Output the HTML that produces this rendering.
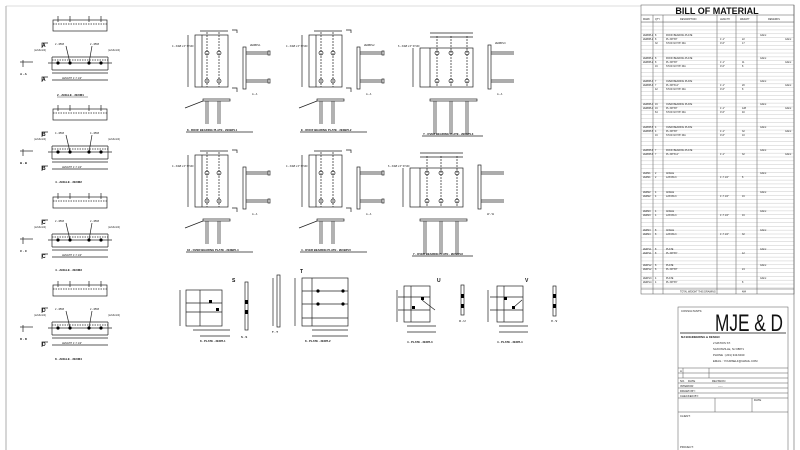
<!DOCTYPE html>
<html><head><meta charset="utf-8"><style>
html,body{margin:0;padding:0;background:#fff;width:800px;height:450px;overflow:hidden}
svg{display:block;font-family:"Liberation Sans",sans-serif}
</style></head><body>
<svg width="800" height="450" viewBox="0 0 800 450" xmlns="http://www.w3.org/2000/svg">
<defs>
<g id="ang" fill="none" stroke="#222" stroke-width="0.7">
  <rect x="53" y="20" width="54" height="11"/>
  <line x1="53" y1="24" x2="107" y2="24" stroke-dasharray="1.5 1"/>
  <line x1="58" y1="16" x2="58" y2="22"/><line x1="70" y1="16" x2="70" y2="22"/>
  <line x1="89" y1="16" x2="89" y2="22"/><line x1="101" y1="16" x2="101" y2="22"/>
  <line x1="52" y1="57" x2="108" y2="57"/><line x1="52" y1="70" x2="108" y2="70"/>
  <line x1="52" y1="60" x2="108" y2="60" stroke-dasharray="1.5 1"/>
  <line x1="52" y1="57" x2="52" y2="70"/><line x1="108" y1="57" x2="108" y2="70"/>
  <line x1="52" y1="73" x2="108" y2="73"/><line x1="52" y1="80" x2="108" y2="80"/>
  <line x1="48" y1="63" x2="112" y2="63"/>
  <line x1="70" y1="63" x2="66" y2="46"/><line x1="89" y1="63" x2="92" y2="46"/>
  <polyline points="42,48 42,43 48,43"/><polyline points="42,82 42,77 48,77"/>
  <polyline points="20,62 33,62"/><line x1="23" y1="60" x2="23" y2="67"/>
</g>
<g id="angdots" fill="#000">
  <circle cx="58" cy="63" r="1.6"/><circle cx="70" cy="63" r="1.6"/><circle cx="89" cy="63" r="1.6"/><circle cx="101" cy="63" r="1.6"/>
</g>
<g id="pl2" fill="none" stroke="#222" stroke-width="0.7">
  <rect x="195" y="35" width="33" height="52"/>
  <line x1="202" y1="35" x2="202" y2="87"/>
  <line x1="207" y1="32" x2="207" y2="87" stroke-dasharray="2 1"/>
  <line x1="219" y1="32" x2="219" y2="87" stroke-dasharray="2 1"/>
  <line x1="188" y1="35" x2="188" y2="87"/>
  <line x1="200" y1="31" x2="228" y2="31"/>
  <circle cx="207" cy="53" r="2"/><circle cx="219" cy="53" r="2"/>
  <circle cx="207" cy="81" r="2"/><circle cx="219" cy="81" r="2"/>
  <polyline points="232,30 237,30 237,33"/><polyline points="232,88 237,88 237,92"/>
  <rect x="243" y="47" width="3" height="42"/>
  <line x1="246" y1="52" x2="268" y2="52"/><line x1="246" y1="54" x2="268" y2="54"/>
  <line x1="246" y1="80" x2="268" y2="80"/><line x1="246" y1="82" x2="268" y2="82"/>
  <rect x="268" y="51" width="2" height="4"/><rect x="268" y="79" width="2" height="4"/>
  <rect x="203" y="99" width="27" height="2"/>
  <line x1="206" y1="101" x2="206" y2="124"/><line x1="208" y1="101" x2="208" y2="124"/>
  <line x1="218" y1="101" x2="218" y2="124"/><line x1="220" y1="101" x2="220" y2="124"/>
  <line x1="185" y1="108" x2="203" y2="101"/>
  <line x1="186" y1="132" x2="253" y2="132"/>
</g>
<g id="pl3" fill="none" stroke="#222" stroke-width="0.7">
  <rect x="420" y="48" width="53" height="39"/>
  <line x1="430" y1="48" x2="430" y2="87"/>
  <line x1="437" y1="36" x2="437" y2="87" stroke-dasharray="2 1"/>
  <line x1="451" y1="36" x2="451" y2="87" stroke-dasharray="2 1"/>
  <line x1="467" y1="36" x2="467" y2="87" stroke-dasharray="2 1"/>
  <line x1="413" y1="48" x2="413" y2="87"/>
  <line x1="430" y1="33" x2="473" y2="33"/><line x1="430" y1="37" x2="473" y2="37"/>
  <circle cx="437" cy="53" r="2"/><circle cx="451" cy="53" r="2"/><circle cx="467" cy="53" r="2"/>
  <circle cx="437" cy="81" r="2"/><circle cx="451" cy="81" r="2"/><circle cx="467" cy="81" r="2"/>
  <rect x="488" y="45" width="3" height="44"/>
  <line x1="491" y1="52" x2="514" y2="52"/><line x1="491" y1="54" x2="514" y2="54"/>
  <line x1="491" y1="80" x2="514" y2="80"/><line x1="491" y1="82" x2="514" y2="82"/>
  <rect x="430" y="99" width="47" height="2"/>
  <line x1="434" y1="101" x2="434" y2="134"/><line x1="436" y1="101" x2="436" y2="134"/>
  <line x1="450" y1="101" x2="450" y2="134"/><line x1="452" y1="101" x2="452" y2="134"/>
  <line x1="466" y1="101" x2="466" y2="134"/><line x1="468" y1="101" x2="468" y2="134"/>
  <line x1="422" y1="136" x2="483" y2="136"/>
</g>
<pattern id="rows" x="0" y="22" width="10" height="3.85" patternUnits="userSpaceOnUse">
  <line x1="0" y1="0" x2="10" y2="0" stroke="#777" stroke-width="0.4"/>
</pattern>
</defs>

<line x1="6" y1="6" x2="6" y2="450" stroke="#999" stroke-width="0.8"/>
<line x1="6" y1="6" x2="641" y2="6" stroke="#bbb" stroke-width="0.6"/>
<line x1="794" y1="5" x2="794" y2="450" stroke="#888" stroke-width="0.8"/>

<use href="#ang"/><use href="#angdots"/>
<use href="#ang" transform="translate(0,89)"/><use href="#angdots" transform="translate(0,89)"/>
<use href="#ang" transform="translate(0,177)"/><use href="#angdots" transform="translate(0,177)"/>
<use href="#ang" transform="translate(0,265)"/><use href="#angdots" transform="translate(0,265)"/>
<g font-size="3" fill="#111" font-weight="bold">
  <text x="57" y="96">2 - ANGLE - 2E0M1</text><line x1="57" y1="97" x2="88" y2="97" stroke="#222" stroke-width="0.4"/>
  <text x="55" y="183">4 - ANGLE - 2E0M2</text>
  <text x="55" y="271">4 - ANGLE - 2E0M3</text>
  <text x="55" y="360">8 - ANGLE - 2E0M4</text>
  <text x="20" y="75">A - A</text><text x="20" y="164">B - B</text><text x="20" y="252">C - C</text><text x="20" y="340">D - D</text>
  <text x="42" y="47" font-size="5">A</text><text x="42" y="81" font-size="5">A</text>
  <text x="42" y="136" font-size="5">B</text><text x="42" y="170" font-size="5">B</text>
  <text x="42" y="224" font-size="5">C</text><text x="42" y="258" font-size="5">C</text>
  <text x="42" y="312" font-size="5">D</text><text x="42" y="346" font-size="5">D</text>
  <g font-size="2.5" font-weight="normal">
    <text x="34" y="51">(L2x3x1/4)</text><text x="108" y="51">(L2x3x1/4)</text><text x="55" y="45">2 - Ø5/8</text><text x="90" y="45">2 - Ø5/8</text><text x="62" y="79">LENGTH 1'-7 1/2"</text>
    <text x="34" y="140">(L2x3x1/4)</text><text x="108" y="140">(L2x3x1/4)</text><text x="55" y="134">4 - Ø5/8</text><text x="90" y="134">4 - Ø5/8</text><text x="62" y="168">LENGTH 1'-7 1/2"</text>
    <text x="34" y="228">(L2x3x1/4)</text><text x="108" y="228">(L2x3x1/4)</text><text x="55" y="222">2 - Ø5/8</text><text x="90" y="222">2 - Ø5/8</text><text x="62" y="256">LENGTH 1'-7 1/2"</text>
    <text x="34" y="316">(L2x3x1/4)</text><text x="108" y="316">(L2x3x1/4)</text><text x="55" y="310">2 - Ø5/8</text><text x="90" y="310">2 - Ø5/8</text><text x="62" y="344">LENGTH 1'-7 1/2"</text>
  </g>
</g>

<use href="#pl2"/><use href="#pl2" transform="translate(114,0)"/><use href="#pl3"/>
<use href="#pl2" transform="translate(0,120)"/><use href="#pl2" transform="translate(114,120)"/><use href="#pl3" transform="translate(-10,120)"/>
<g font-size="2.8" fill="#111" font-weight="bold">
  <text x="187" y="131">8 - ROOF BEARING PLATE - 2E0BPL1</text>
  <text x="301" y="131">E - ROOF BEARING PLATE - 2E0BPL2</text>
  <text x="423" y="135">Y - OVER BEARING PLATE - 2E0BPL3</text>
  <text x="187" y="251">16 - OVER BEARING PLATE - 2E0BPL4</text>
  <text x="301" y="251">4 - OVER BEARING PLATE - 2E0BPL5</text>
  <text x="413" y="255">7 - OVER BEARING PLATE - 2E0BPL6</text>
  <g font-weight="normal" font-size="2.5">
    <text x="252" y="95">A - A</text><text x="366" y="95">A - A</text><text x="497" y="95">A - A</text>
    <text x="252" y="215">A - A</text><text x="366" y="215">A - A</text><text x="487" y="215">W - W</text>
    <text x="172" y="47">4 - 3/4Ø x 6" STUD</text><text x="286" y="47">4 - 3/4Ø x 6" STUD</text><text x="398" y="47">6 - 3/4Ø x 6" STUD</text>
    <text x="172" y="167">4 - 3/4Ø x 6" STUD</text><text x="286" y="167">4 - 3/4Ø x 6" STUD</text><text x="388" y="167">6 - 3/4Ø x 6" STUD</text>
    <text x="250" y="46">2E0BPL1</text><text x="364" y="46">2E0BPL2</text><text x="495" y="44">2E0BPL3</text>
  </g>
</g>

<g fill="none" stroke="#222" stroke-width="0.7">
  <rect x="186" y="290" width="36" height="36"/><line x1="200" y1="290" x2="200" y2="326"/>
  <line x1="186" y1="303" x2="222" y2="303"/><line x1="186" y1="312" x2="222" y2="312"/>
  <line x1="180" y1="290" x2="180" y2="326"/><line x1="193" y1="330" x2="230" y2="330"/><line x1="200" y1="336" x2="230" y2="336"/>
  <rect x="245" y="282" width="3" height="48"/>
  <rect x="302" y="278" width="46" height="48"/><line x1="312" y1="278" x2="312" y2="326"/>
  <line x1="302" y1="291" x2="348" y2="291"/><line x1="302" y1="304" x2="348" y2="304"/><line x1="302" y1="318" x2="348" y2="318"/>
  <line x1="312" y1="330" x2="348" y2="330"/><line x1="312" y1="336" x2="348" y2="336"/>
  <line x1="295" y1="278" x2="295" y2="326"/><line x1="273" y1="278" x2="273" y2="326"/>
  <rect x="277" y="275" width="3" height="52"/>
  <rect x="404" y="286" width="26" height="36"/><line x1="411" y1="286" x2="411" y2="322"/>
  <line x1="398" y1="297" x2="430" y2="297"/><line x1="398" y1="310" x2="430" y2="310"/>
  <line x1="397" y1="290" x2="397" y2="322"/><line x1="407" y1="326" x2="436" y2="326"/><line x1="407" y1="332" x2="436" y2="332"/>
  <line x1="422" y1="300" x2="435" y2="310"/>
  <rect x="461" y="285" width="3" height="30"/>
  <rect x="497" y="286" width="26" height="36"/><line x1="504" y1="286" x2="504" y2="322"/>
  <line x1="490" y1="297" x2="523" y2="297"/><line x1="490" y1="310" x2="523" y2="310"/>
  <line x1="488" y1="290" x2="488" y2="322"/><line x1="499" y1="326" x2="528" y2="326"/><line x1="499" y1="332" x2="528" y2="332"/>
  <line x1="514" y1="307" x2="522" y2="300"/>
  <rect x="553" y="286" width="3" height="30"/>
</g>
<g fill="#000">
  <rect x="209" y="300" width="3" height="3"/><rect x="216" y="308" width="3" height="3"/>
  <circle cx="318" cy="291" r="1.6"/><circle cx="343" cy="291" r="1.6"/><circle cx="318" cy="304" r="1.6"/><circle cx="343" cy="304" r="1.6"/>
  <rect x="421" y="297" width="3" height="3"/><rect x="412" y="306" width="3" height="3"/>
  <rect x="504" y="297" width="3" height="3"/><rect x="512" y="306" width="3" height="3"/>
  <rect x="245" y="300" width="3" height="4"/><rect x="245" y="310" width="3" height="4"/>
  <rect x="461" y="294" width="3" height="4"/><rect x="461" y="304" width="3" height="4"/>
  <rect x="553" y="294" width="3" height="4"/><rect x="553" y="304" width="3" height="4"/>
</g>
<g font-size="2.8" fill="#111" font-weight="bold">
  <text x="200" y="342">8 - PLATE - 2E0PL1</text>
  <text x="305" y="342">8 - PLATE - 2E0PL2</text>
  <text x="407" y="343">4 - PLATE - 2E0PL3</text>
  <text x="497" y="343">4 - PLATE - 2E0PL4</text>
  <text x="241" y="338">S - S</text><text x="272" y="333">T - T</text><text x="459" y="322">U - U</text><text x="551" y="322">V - V</text>
  <text x="232" y="282" font-size="5">S</text><text x="300" y="273" font-size="5">T</text><text x="437" y="282" font-size="5">U</text><text x="525" y="282" font-size="5">V</text>
</g>

<g stroke="#555" stroke-width="0.5" fill="none">
  <rect x="641" y="5" width="153" height="289"/>
  <line x1="641" y1="15" x2="794" y2="15"/><line x1="641" y1="22" x2="794" y2="22"/>
  <line x1="653" y1="15" x2="653" y2="294"/><line x1="663" y1="15" x2="663" y2="294"/>
  <line x1="717" y1="15" x2="717" y2="294"/><line x1="736" y1="15" x2="736" y2="294"/>
  <line x1="757" y1="15" x2="757" y2="294"/>
  <line x1="641" y1="289" x2="794" y2="289"/>
</g>
<rect x="641" y="22" width="153" height="267" fill="url(#rows)"/>
<text x="717" y="14" font-size="9" font-weight="bold" text-anchor="middle" fill="#111">BILL OF MATERIAL</text>
<g font-size="2.4" fill="#222">
  <text x="643" y="20">MARK</text><text x="655" y="20">QTY</text><text x="680" y="20">DESCRIPTION</text><text x="720" y="20">LENGTH</text><text x="740" y="20">WEIGHT</text><text x="768" y="20">REMARKS</text>
  <text x="643" y="36">2E0BPL1</text><text x="655" y="36">8</text><text x="666" y="36">ROOF BEARING PLATE</text><text x="760" y="36">GALV.</text>
  <text x="643" y="40">2E0BPL1</text><text x="655" y="40">8</text><text x="666" y="40">PL 3/8"X8"</text><text x="720" y="40">1'-1"</text><text x="742" y="40">22</text><text x="785" y="40">GALV.</text>
  <text x="655" y="44">32</text><text x="666" y="44">STUD 3/4"X6" DIA</text><text x="720" y="44">0'-6"</text><text x="742" y="44">17</text>
  <text x="643" y="59">2E0BPL2</text><text x="655" y="59">8</text><text x="666" y="59">ROOF BEARING PLATE</text><text x="760" y="59">GALV.</text>
  <text x="643" y="63">2E0BPL2</text><text x="655" y="63">8</text><text x="666" y="63">PL 3/8"X8"</text><text x="720" y="63">1'-1"</text><text x="742" y="63">11</text><text x="785" y="63">GALV.</text>
  <text x="655" y="67">16</text><text x="666" y="67">STUD 3/4"X6" DIA</text><text x="720" y="67">0'-6"</text><text x="742" y="67">8</text>
  <text x="643" y="82">2E0BPL3</text><text x="655" y="82">7</text><text x="666" y="82">OVER BEARING PLATE</text><text x="760" y="82">GALV.</text>
  <text x="643" y="86">2E0BPL3</text><text x="655" y="86">7</text><text x="666" y="86">PL 3/8"X12"</text><text x="720" y="86">1'-1"</text><text x="742" y="86">20</text><text x="785" y="86">GALV.</text>
  <text x="655" y="90">42</text><text x="666" y="90">STUD 3/4"X6" DIA</text><text x="720" y="90">0'-6"</text><text x="742" y="90">8</text>
  <text x="643" y="105">2E0BPL4</text><text x="655" y="105">16</text><text x="666" y="105">OVER BEARING PLATE</text><text x="760" y="105">GALV.</text>
  <text x="643" y="109">2E0BPL4</text><text x="655" y="109">16</text><text x="666" y="109">PL 3/8"X8"</text><text x="720" y="109">1'-1"</text><text x="742" y="109">128</text><text x="785" y="109">GALV.</text>
  <text x="655" y="113">64</text><text x="666" y="113">STUD 3/4"X6" DIA</text><text x="720" y="113">0'-6"</text><text x="742" y="113">40</text>
  <text x="643" y="128">2E0BPL5</text><text x="655" y="128">4</text><text x="666" y="128">OVER BEARING PLATE</text><text x="760" y="128">GALV.</text>
  <text x="643" y="132">2E0BPL5</text><text x="655" y="132">4</text><text x="666" y="132">PL 3/8"X8"</text><text x="720" y="132">1'-1"</text><text x="742" y="132">32</text><text x="785" y="132">GALV.</text>
  <text x="655" y="136">16</text><text x="666" y="136">STUD 3/4"X6" DIA</text><text x="720" y="136">0'-6"</text><text x="742" y="136">10</text>
  <text x="643" y="151">2E0BPL6</text><text x="655" y="151">7</text><text x="666" y="151">ROOF BEARING PLATE</text><text x="760" y="151">GALV.</text>
  <text x="643" y="155">2E0BPL6</text><text x="655" y="155">7</text><text x="666" y="155">PL 3/8"X12"</text><text x="720" y="155">1'-1"</text><text x="742" y="155">32</text><text x="785" y="155">GALV.</text>
  <text x="643" y="174">2E0M1</text><text x="655" y="174">2</text><text x="666" y="174">ANGLE</text><text x="760" y="174">GALV.</text>
  <text x="643" y="178">2E0M1</text><text x="655" y="178">2</text><text x="666" y="178">L2X3X1/4</text><text x="720" y="178">1'-7 1/2"</text><text x="742" y="178">8</text>
  <text x="643" y="193">2E0M2</text><text x="655" y="193">4</text><text x="666" y="193">ANGLE</text><text x="760" y="193">GALV.</text>
  <text x="643" y="197">2E0M2</text><text x="655" y="197">4</text><text x="666" y="197">L2X3X1/4</text><text x="720" y="197">1'-7 1/2"</text><text x="742" y="197">16</text>
  <text x="643" y="212">2E0M3</text><text x="655" y="212">4</text><text x="666" y="212">ANGLE</text><text x="760" y="212">GALV.</text>
  <text x="643" y="216">2E0M3</text><text x="655" y="216">4</text><text x="666" y="216">L2X3X1/4</text><text x="720" y="216">1'-7 1/2"</text><text x="742" y="216">16</text>
  <text x="643" y="231">2E0M4</text><text x="655" y="231">8</text><text x="666" y="231">ANGLE</text><text x="760" y="231">GALV.</text>
  <text x="643" y="235">2E0M4</text><text x="655" y="235">8</text><text x="666" y="235">L2X3X1/4</text><text x="720" y="235">1'-7 1/2"</text><text x="742" y="235">32</text>
  <text x="643" y="250">2E0PL1</text><text x="655" y="250">8</text><text x="666" y="250">PLATE</text><text x="760" y="250">GALV.</text>
  <text x="643" y="254">2E0PL1</text><text x="655" y="254">8</text><text x="666" y="254">PL 3/8"X6"</text><text x="742" y="254">12</text>
  <text x="643" y="266">2E0PL2</text><text x="655" y="266">8</text><text x="666" y="266">PLATE</text><text x="760" y="266">GALV.</text>
  <text x="643" y="270">2E0PL2</text><text x="655" y="270">8</text><text x="666" y="270">PL 3/8"X8"</text><text x="742" y="270">24</text>
  <text x="643" y="279">2E0PL3</text><text x="655" y="279">4</text><text x="666" y="279">PLATE</text><text x="760" y="279">GALV.</text>
  <text x="643" y="283">2E0PL4</text><text x="655" y="283">4</text><text x="666" y="283">PL 3/8"X6"</text><text x="742" y="283">8</text>
  <text x="680" y="292.5">TOTAL WEIGHT THIS DRAWING</text><text x="742" y="292.5">484</text>
</g>

<g stroke="#555" stroke-width="0.5" fill="none">
  <rect x="678" y="307" width="110" height="150"/>
  <line x1="678" y1="368" x2="788" y2="368"/>
  <line x1="678" y1="373" x2="788" y2="373"/><line x1="678" y1="378" x2="788" y2="378"/>
  <line x1="678" y1="383" x2="788" y2="383"/><line x1="678" y1="388" x2="788" y2="388"/>
  <line x1="678" y1="393" x2="788" y2="393"/><line x1="678" y1="398" x2="788" y2="398"/>
  <line x1="678" y1="412" x2="788" y2="412"/>
  <line x1="683" y1="368" x2="683" y2="378"/><line x1="709" y1="368" x2="709" y2="378"/>
  <line x1="715" y1="398" x2="715" y2="412"/><line x1="752" y1="398" x2="752" y2="412"/>
  <line x1="680" y1="333" x2="786" y2="333" stroke="#111" stroke-width="0.7"/>
</g>
<g fill="#222" font-size="2.8">
  <text x="681" y="312">CONSULTANTS:</text>
  <text x="715" y="331" font-size="24" fill="#111" textLength="68" lengthAdjust="spacingAndGlyphs">MJE &amp; D</text>
  <text x="681" y="338" font-weight="bold">MJ ENGINEERING &amp; DESIGN</text>
  <text x="713" y="344">2 MATIOS ST.</text>
  <text x="713" y="350">SAXONVILLE, NJ 08871</text>
  <text x="713" y="356">PHONE : (201) 343-6040</text>
  <text x="713" y="362">EMAIL : YOURSELF@GMAIL.COM</text>
  <text x="680" y="372">A</text>
  <text x="680" y="382">NO.</text><text x="688" y="382">DATE</text><text x="712" y="382">REVISION</text>
  <text x="680" y="387">INTERIOR</text><text x="718" y="387">-----</text>
  <text x="680" y="392">DRAWN BY:</text>
  <text x="680" y="397">CHECKED BY:</text>
  <text x="754" y="401">DATE</text>
  <text x="680" y="417">CLIENT:</text>
  <text x="680" y="448">PROJECT:</text>
</g>
</svg>
</body></html>
